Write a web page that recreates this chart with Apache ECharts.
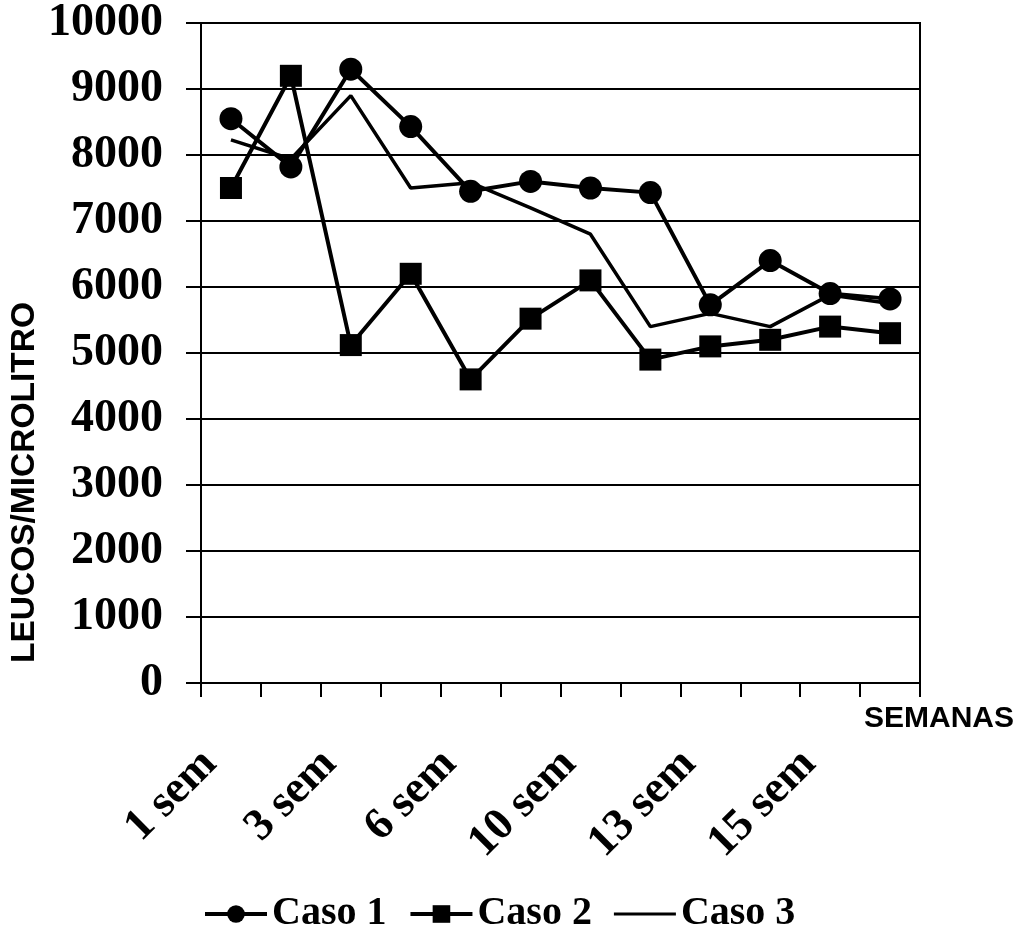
<!DOCTYPE html>
<html>
<head>
<meta charset="utf-8">
<script src="https://cdn.jsdelivr.net/npm/echarts@6/dist/echarts.min.js"></script>
<style>
html,body{margin:0;padding:0;background:#fff;}
#chart{width:1027px;height:943px;}
</style>
</head>
<body>
<div id="chart"></div>
<script>
const categories = ['1 sem','2 sem','3 sem','4 sem','6 sem','8 sem','10 sem','12 sem','13 sem','14 sem','15 sem','16 sem'];
const caso1 = [8550, 7820, 9300, 8430, 7450, 7600, 7500, 7430, 5730, 6400, 5900, 5820];
const caso2 = [7500, 9200, 5120, 6200, 4600, 5520, 6100, 4900, 5100, 5200, 5400, 5300];
const caso3 = [8230, 7940, 8900, 7500, 7580, 7200, 6800, 5400, 5600, 5400, 5880, 5750];
const yTicks = {min: 0, max: 10000, interval: 1000};
const yTitle = 'LEUCOS/MICROLITRO';
const xTitle = 'SEMANAS';

const serif = "'Liberation Serif', 'Times New Roman', serif";
const sans = "'Liberation Sans', Arial, sans-serif";

const chart = echarts.init(document.getElementById('chart'), null, {renderer: 'canvas'});
chart.setOption({
  backgroundColor: '#fff',
  animation: false,
  grid: {left: 201, right: 107, top: 22, bottom: 260, show: true, borderColor: '#000', borderWidth: 2, backgroundColor: 'transparent'},
  xAxis: {
    type: 'category',
    data: categories,
    boundaryGap: true,
    axisLine: {lineStyle: {color: '#000', width: 2}},
    axisTick: {show: true, length: 14, lineStyle: {color: '#000', width: 2}, alignWithLabel: false, interval: 0},
    axisLabel: {interval: 1, rotate: 45, margin: 53, padding: [0, 30, 0, 0], color: '#000', fontFamily: serif, fontWeight: 'bold', fontSize: 45},
    splitLine: {show: false}
  },
  yAxis: {
    type: 'value',
    min: yTicks.min, max: yTicks.max, interval: yTicks.interval,
    axisLine: {show: true, lineStyle: {color: '#000', width: 2}},
    axisTick: {show: true, length: 15, lineStyle: {color: '#000', width: 2}},
    axisLabel: {margin: 38, color: '#000', fontFamily: serif, fontWeight: 'bold', fontSize: 46,
      formatter: function (v) { return String(v); }},
    splitLine: {show: true, lineStyle: {color: '#000', width: 2}}
  },
  legend: {
    bottom: 4, left: 198,
    itemWidth: 62, itemHeight: 22, itemGap: 22,
    lineStyle: {width: 4},
    textStyle: {color: '#000', fontFamily: serif, fontWeight: 'bold', fontSize: 40},
    data: [
      {name: 'Caso 1'},
      {name: 'Caso 2'},
      {name: 'Caso 3', icon: 'path://M0 0 L62 0 L62 3 L0 3 Z'}
    ]
  },
  graphic: [
    {type: 'text', left: 8, top: 302, rotation: Math.PI/2, style: {text: yTitle, font: "bold 33.5px " + sans, fill: '#000'}},
    {type: 'text', left: 864, top: 704, style: {text: xTitle, font: "bold 30px " + sans, fill: '#000'}}
  ],
  series: [
    {name: 'Caso 1', type: 'line', data: caso1, symbol: 'circle', symbolSize: 23,
     lineStyle: {color: '#000', width: 4}, itemStyle: {color: '#000'}},
    {name: 'Caso 2', type: 'line', data: caso2, symbol: 'rect', symbolSize: 22,
     lineStyle: {color: '#000', width: 4}, itemStyle: {color: '#000'}},
    {name: 'Caso 3', type: 'line', data: caso3, symbol: 'none', showSymbol: false,
     lineStyle: {color: '#000', width: 3.5}, itemStyle: {color: '#000'}}
  ]
});
</script>
</body>
</html>
